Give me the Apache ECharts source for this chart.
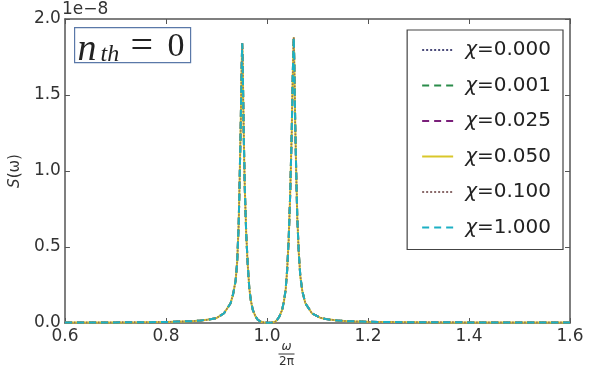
<!DOCTYPE html>
<html>
<head>
<meta charset="utf-8">
<script src="https://cdn.jsdelivr.net/npm/echarts@6/dist/echarts.min.js"></script>
<style>
  html, body { margin: 0; padding: 0; background: #fff; }
  #chart { width: 589px; height: 375px; }
</style>
</head>
<body>
<div id="chart"></div>
<script>
// frequency axis, omega / 2pi
var omega = [
  0.60, 0.65, 0.70, 0.75, 0.80, 0.85, 0.87, 0.888, 0.90, 0.915,
  0.928, 0.933, 0.938, 0.941, 0.944, 0.946, 0.948, 0.950, 0.951, 0.952,
  0.954, 0.956, 0.959, 0.962, 0.965, 0.968, 0.972, 0.977, 0.982, 0.988,
  0.995, 1.002, 1.010, 1.016, 1.020, 1.025, 1.030, 1.034, 1.037, 1.040,
  1.043, 1.046, 1.049, 1.051, 1.053, 1.054, 1.056, 1.058, 1.060, 1.063,
  1.066, 1.070, 1.076, 1.089, 1.105, 1.12, 1.14, 1.16, 1.20, 1.25,
  1.30, 1.40, 1.50, 1.60
];
// S(omega), in units of 1e-8 (all chi curves lie on top of each other)
var sOmega = [
  0.003, 0.003, 0.004, 0.005, 0.007, 0.012, 0.017, 0.024, 0.032, 0.064,
  0.13, 0.19, 0.28, 0.40, 0.65, 0.95, 1.30, 1.70, 1.84, 1.70,
  1.25, 0.90, 0.58, 0.38, 0.23, 0.15, 0.086, 0.045, 0.02, 0.008,
  0.003, 0.002, 0.003, 0.008, 0.02, 0.045, 0.086, 0.15, 0.22, 0.35,
  0.55, 0.85, 1.25, 1.62, 1.88, 1.74, 1.30, 0.98, 0.70, 0.46,
  0.31, 0.21, 0.13, 0.064, 0.035, 0.024, 0.017, 0.012, 0.008, 0.006,
  0.005, 0.004, 0.003, 0.003
];
var seriesNames = ['χ=0.000', 'χ=0.001', 'χ=0.025', 'χ=0.050', 'χ=0.100', 'χ=1.000'];
var xTicks = [0.6, 0.8, 1.0, 1.2, 1.4, 1.6];
var yTicks = [0.0, 0.5, 1.0, 1.5, 2.0];

var styles = [
  { color: '#4b4b7a', type: 'dotted', width: 1.5 },
  { color: '#2a8c4a', type: [7, 5], width: 2 },
  { color: '#7a1f7a', type: [7, 5], width: 2 },
  { color: '#d9c72a', type: 'solid', width: 2 },
  { color: '#8a6a6a', type: 'dotted', width: 1.5 },
  { color: '#1cb0c4', type: [7, 5], width: 2 }
];

var chart = echarts.init(document.getElementById('chart'), null, { renderer: 'canvas' });

var points = omega.map(function (w, i) { return [w, sOmega[i]]; });
var font = 'DejaVu Sans';
var axisColor = '#555';

function frameAxis(pos, isX) {
  var ax = {
    type: 'value',
    position: pos,
    min: isX ? xTicks[0] : yTicks[0],
    max: isX ? xTicks[xTicks.length - 1] : yTicks[yTicks.length - 1],
    interval: isX ? 0.2 : 0.5,
    axisLine: { show: true, onZero: false, lineStyle: { color: axisColor, width: 1.5 } },
    axisTick: { show: true, inside: true, length: 5, lineStyle: { color: axisColor } },
    axisLabel: { show: false },
    splitLine: { show: false }
  };
  return ax;
}

var xBottom = frameAxis('bottom', true);
xBottom.axisLabel = {
  show: true, margin: 5, color: '#333', fontFamily: font, fontSize: 17,
  formatter: function (v) { return v.toFixed(1); }
};
var yLeft = frameAxis('left', false);
yLeft.axisLabel = {
  show: true, margin: 4, color: '#333', fontFamily: font, fontSize: 17,
  formatter: function (v) { return v.toFixed(1); }
};
yLeft.name = '{i|S}(ω)';
yLeft.nameLocation = 'middle';
yLeft.nameRotate = 90;
yLeft.nameGap = 38;
yLeft.nameTextStyle = {
  color: '#333', fontFamily: font, fontSize: 15,
  rich: { i: { fontStyle: 'italic', fontFamily: font, fontSize: 15, color: '#333' } }
};

var option = {
  backgroundColor: '#fff',
  animation: false,
  grid: { left: 64, right: 19, top: 19, bottom: 52 },
  xAxis: [xBottom, frameAxis('top', true)],
  yAxis: [yLeft, frameAxis('right', false)],
  legend: {
    data: seriesNames,
    orient: 'vertical',
    right: 26,
    top: 30,
    backgroundColor: '#fff',
    borderColor: '#444',
    borderWidth: 1.2,
    borderRadius: 0,
    padding: [10, 12, 12, 14],
    itemWidth: 31,
    itemHeight: 14,
    itemGap: 15.5,
    itemStyle: { opacity: 0 },
    textStyle: {
      fontFamily: font, fontSize: 20, color: '#222', padding: [0, 0, 0, 7],
      rich: { c: { fontStyle: 'italic', fontFamily: font, fontSize: 20, color: '#222' } }
    },
    formatter: function (name) { return name.replace('χ', '{c|χ}'); }
  },
  series: seriesNames.map(function (name, i) {
    return {
      name: name,
      type: 'line',
      data: points,
      xAxisIndex: 0,
      yAxisIndex: 0,
      symbol: 'none',
      showSymbol: false,
      lineStyle: styles[i],
      itemStyle: { color: styles[i].color },
      z: 2 + i
    };
  }),
  graphic: [
    {
      type: 'text', left: 62, top: 1,
      style: { text: '1e−8', fontFamily: font, fontSize: 17, fill: '#333' }
    },
    {
      type: 'group', left: 74, top: 27,
      children: [
        { type: 'rect', shape: { x: 0, y: 0, width: 116, height: 35 },
          style: { fill: '#fff', stroke: '#5a78a8', lineWidth: 1.2 } },
        { type: 'text', x: 3, y: 3,
          style: { text: 'n', fontFamily: 'Liberation Serif', fontStyle: 'italic', fontSize: 38, fill: '#222' } },
        { type: 'text', x: 26, y: 15,
          style: { text: 'th', fontFamily: 'Liberation Serif', fontStyle: 'italic', fontSize: 24, fill: '#222' } },
        { type: 'text', x: 56, y: 0,
          style: { text: '=', fontFamily: 'Liberation Serif', fontSize: 40, fill: '#222' } },
        { type: 'text', x: 93, y: 2,
          style: { text: '0', fontFamily: 'Liberation Serif', fontSize: 34, fill: '#222' } }
      ]
    },
    {
      type: 'group', left: 276, top: 341,
      children: [
        { type: 'text', x: 9, y: 0,
          style: { text: 'ω', fontFamily: font, fontStyle: 'italic', fontSize: 12, fill: '#333', align: 'center' } },
        { type: 'line', shape: { x1: 1, y1: 13, x2: 17, y2: 13 }, style: { stroke: '#333', lineWidth: 1 } },
        { type: 'text', x: 9, y: 15,
          style: { text: '2π', fontFamily: font, fontSize: 12, fill: '#333', align: 'center' } }
      ]
    }
  ]
};

chart.setOption(option);
</script>
</body>
</html>
